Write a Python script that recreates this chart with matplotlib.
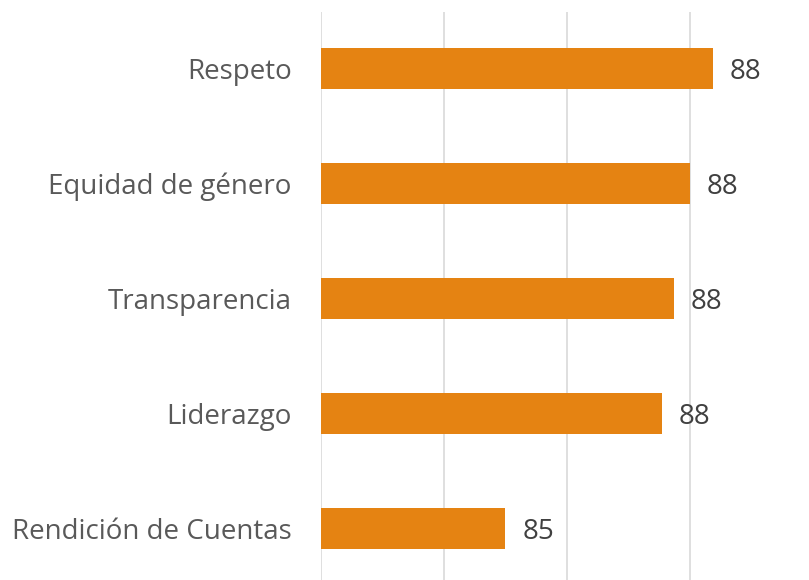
import matplotlib.pyplot as plt

categorias = ['Rendición de Cuentas', 'Liderazgo', 'Transparencia', 'Equidad de género', 'Respeto']
valores = [85.0, 87.55, 87.74, 88.0, 88.38]
etiquetas = ['85', '88', '88', '88', '88']

plt.rcParams['font.family'] = ['Open Sans', 'DejaVu Sans']

fig = plt.figure(figsize=(8.09, 5.8), dpi=100)
W, H = 809, 580
ax = fig.add_axes([321 / W, -5.4 / H, 488 / W, 573.8 / H])

y = list(range(len(categorias)))
base = 82
ax.barh(y, [v - base for v in valores], left=base, height=0.357, color='#E58312', zorder=3)

for yi, v, t in zip(y, valores, etiquetas):
    ax.annotate(t, (v, yi), xytext=(12, 0), textcoords='offset points',
                va='center_baseline', ha='left', fontsize=20, color='#404040')

ax.set_xlim(base, base + 488 / 61.5)
ax.set_ylim(-0.5, 4.5)
ax.set_xticks([82, 84, 86, 88])
ax.set_xticklabels([])
ax.grid(axis='x', color='#D9D9D9', linewidth=1.2, zorder=0)
ax.set_yticks(y)
ax.set_yticklabels(categorias, fontsize=20, color='#595959')
for lbl in ax.get_yticklabels():
    lbl.set_verticalalignment('center_baseline')
ax.tick_params(axis='y', length=0, pad=21)
ax.tick_params(axis='x', length=0)
for s in ax.spines.values():
    s.set_visible(False)

fig.savefig('out.png', dpi=100)
